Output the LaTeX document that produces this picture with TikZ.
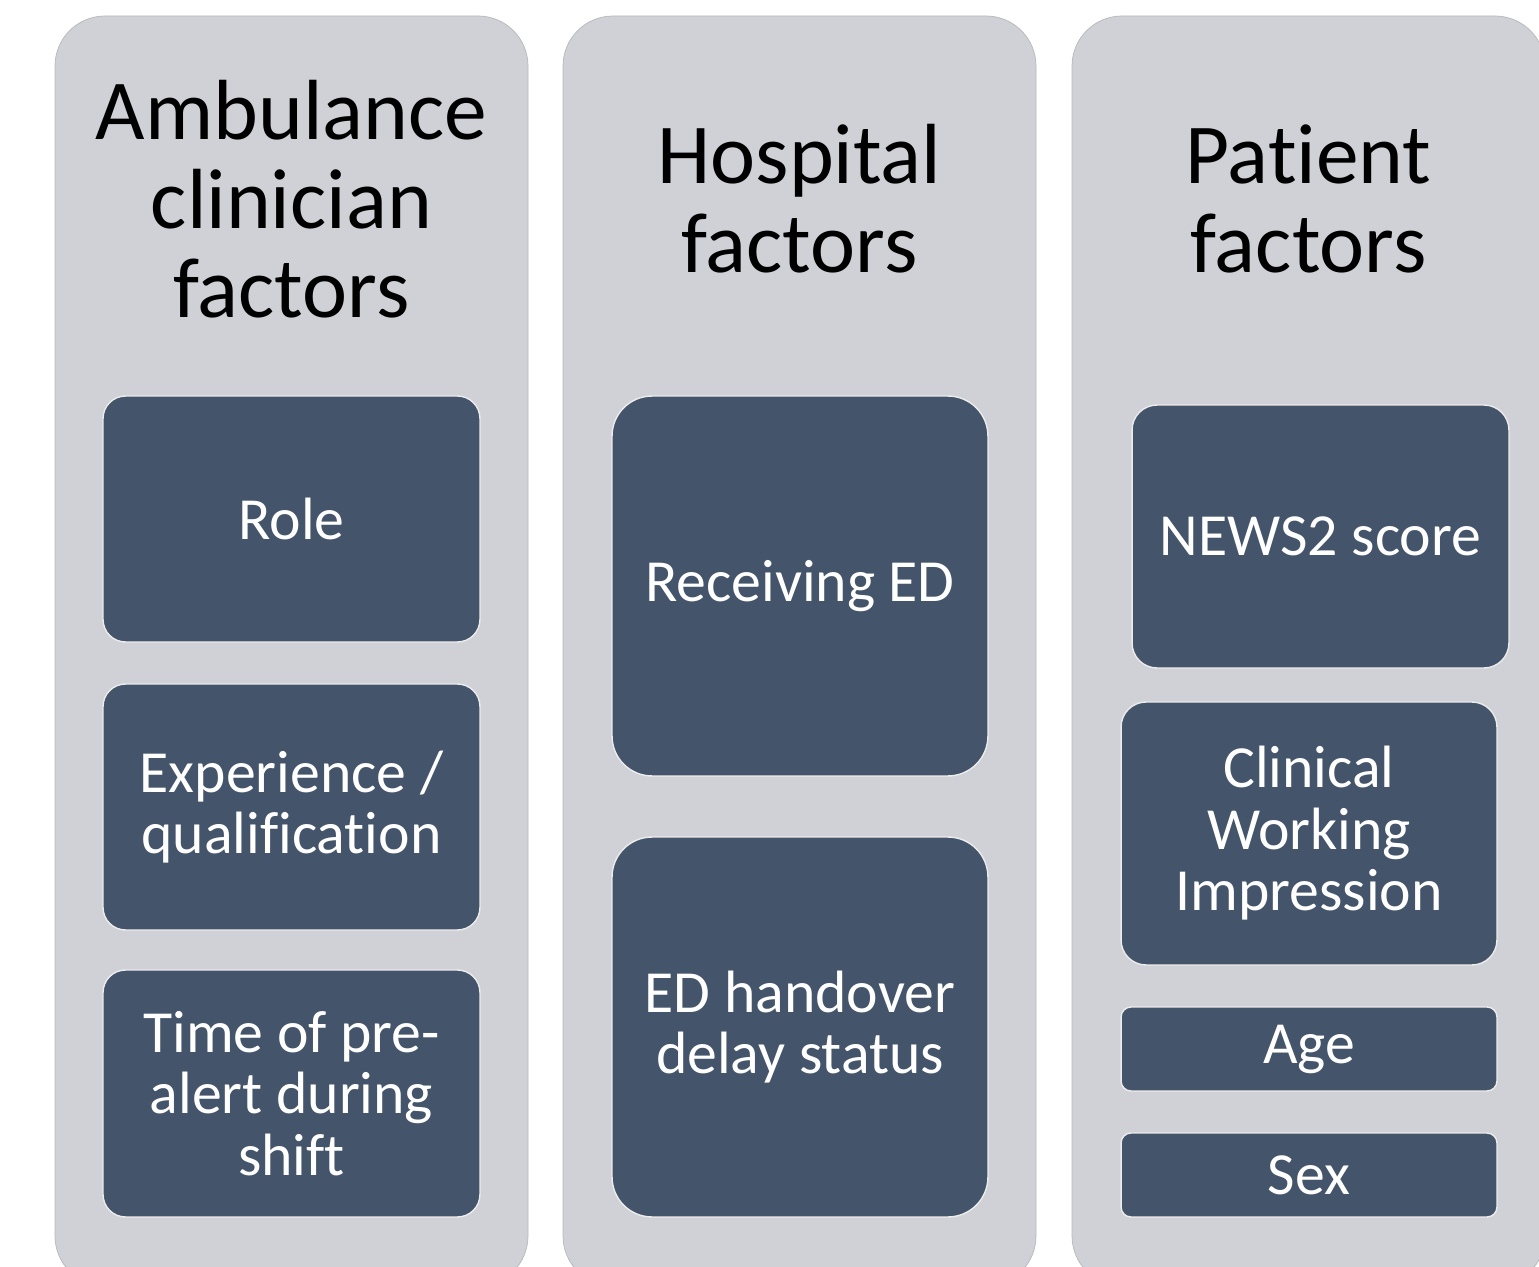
\documentclass[tikz,border=0pt]{standalone}
\usepackage{fontspec}
\setmainfont{Carlito}[RawFeature={-liga;-rlig;-ccmp;-calt;-clig;-dlig}]
\definecolor{panelgray}{RGB}{208,209,214}
\definecolor{slateblue}{RGB}{68,84,106}

\begin{document}
\begin{tikzpicture}[x=0.02cm,y=-0.02cm,
	heading/.style={font=\fontsize{48.6}{50.5}\selectfont, align=center, text=black},
	factor/.style={fill=slateblue, draw=white!85!gray, line width=0.8pt, text=white,
		align=center, inner sep=0pt, font=\fontsize{34}{35}\selectfont}]
		\useasboundingbox (0,0) rectangle (1539,1267);
		\begin{scope}
			\clip (0,0) rectangle (1539,1267);
			\foreach \x in {55,563,1072} {
				\fill[panelgray, draw=panelgray!88!black, line width=0.4pt, rounded corners=1cm] (\x,16) rectangle (\x+473,1286);
			}
		\end{scope}
		\node[heading] (ambtitle) at (291.5,199) {Ambulance\\clinician\\factors};
		\node[heading] (hosptitle) at (799.5,199) {Hospital\\factors};
		\node[heading] (pattitle) at (1308.5,199) {Patient\\factors};
		% ambulance clinician
		\node[factor, minimum width=7.54cm, minimum height=4.92cm, rounded corners=0.45cm] (role) at (291.5,519) {Role};
		\node[factor, minimum width=7.54cm, minimum height=4.92cm, rounded corners=0.45cm] (exper) at (291.5,807) {Experience /\\qualification};
		\node[factor, minimum width=7.54cm, minimum height=4.94cm, rounded corners=0.45cm] (prealert) at (291.5,1093.5) {Time of pre-\\alert during\\shift};
		% hospital
		\node[factor, minimum width=7.52cm, minimum height=7.6cm, rounded corners=0.8cm] (receiving) at (800,586) {Receiving ED};
		\node[factor, minimum width=7.52cm, minimum height=7.6cm, rounded corners=0.8cm] (handover) at (800,1027) {ED handover\\delay status};
		% patient
		\node[factor, minimum width=7.54cm, minimum height=5.26cm, rounded corners=0.5cm] (news) at (1320.5,536.5) {NEWS2 score};
		\node[factor, minimum width=7.52cm, minimum height=5.26cm, rounded corners=0.5cm] (cwi) at (1309,833.5) {Clinical\\Working\\Impression};
		\node[factor, minimum width=7.52cm, minimum height=1.68cm, rounded corners=0.2cm] (age) at (1309,1049) {Age};
		\node[factor, minimum width=7.52cm, minimum height=1.68cm, rounded corners=0.2cm] (sex) at (1309,1175) {Sex};
\end{tikzpicture}
\end{document}
